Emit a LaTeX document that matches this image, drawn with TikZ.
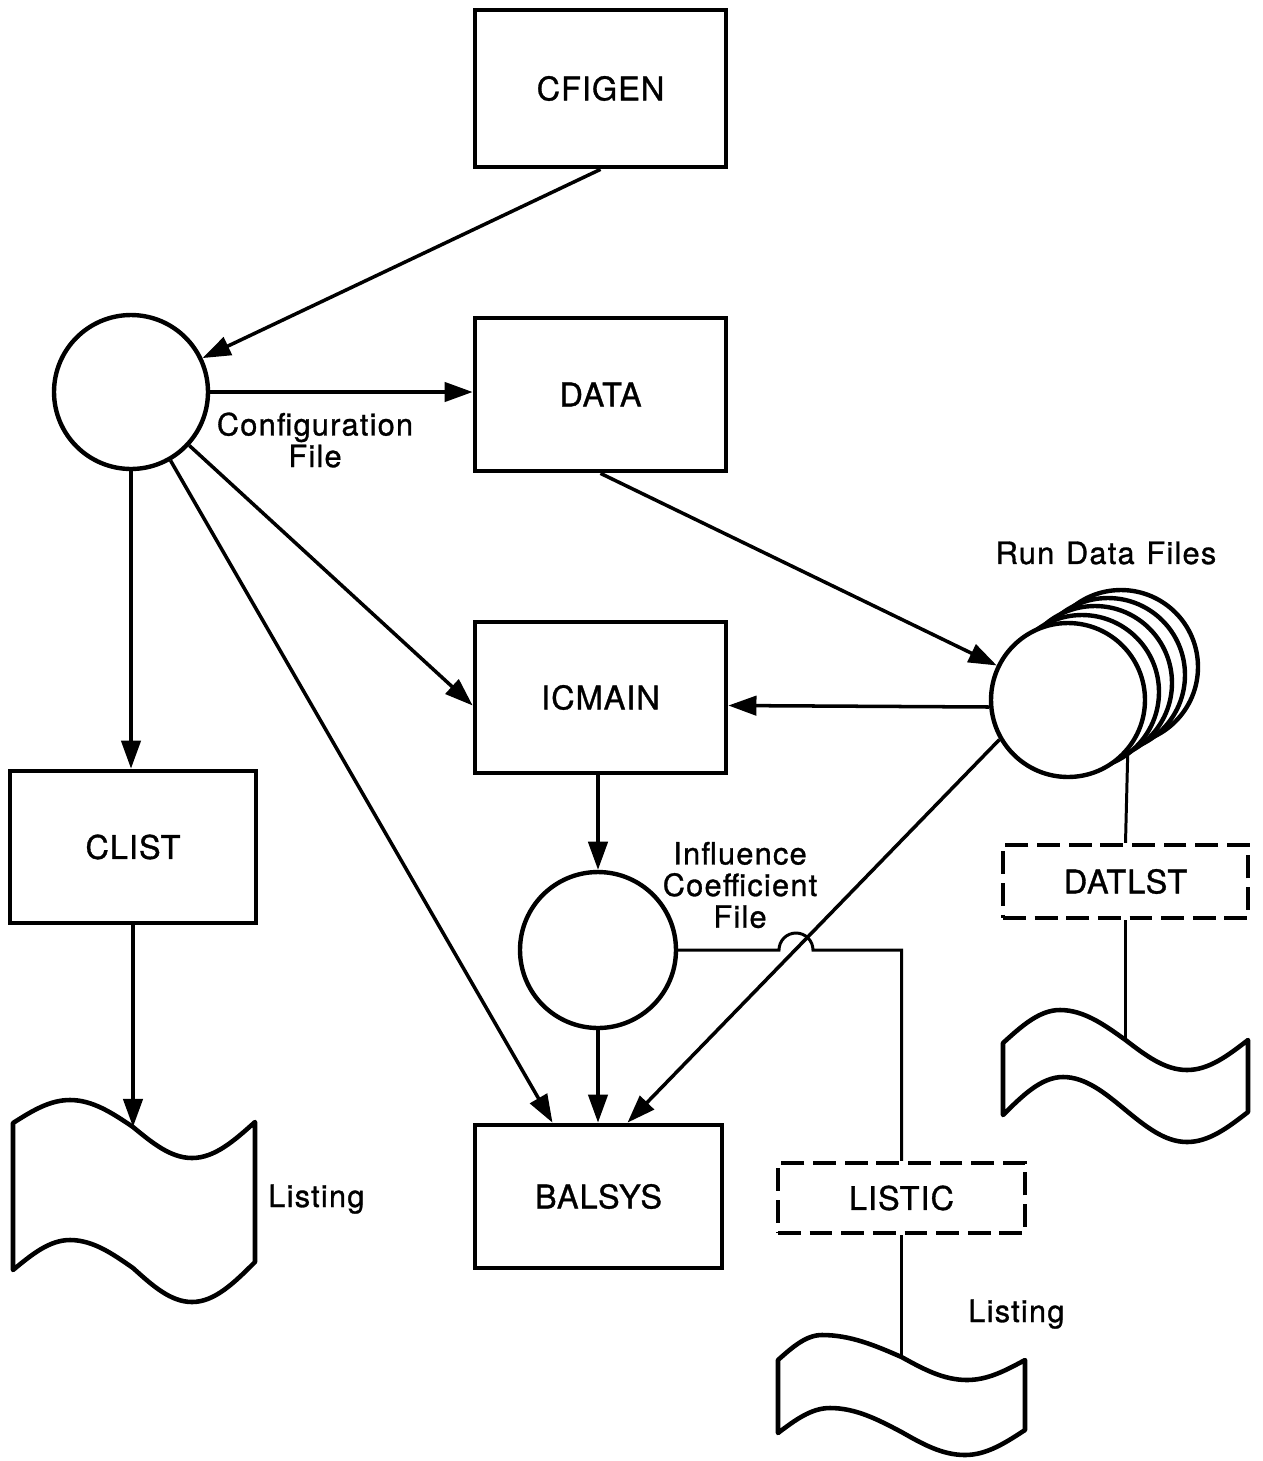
\documentclass[tikz,border=0pt]{standalone}
\usepackage{fontspec}
\setmainfont{TeX Gyre Heros}
\newfontfamily\boxfnt[LetterSpace=3,FakeBold=1]{TeX Gyre Heros}
\newfontfamily\lblfnt[LetterSpace=4,WordSpace=1.2,FakeBold=1]{TeX Gyre Heros}
\usetikzlibrary{arrows.meta,calc}
\begin{document}
\begin{tikzpicture}[x=0.02cm,y=-0.02cm,
  prog/.style={draw, line width=2.7pt, rectangle, inner sep=0pt, fill=white,
    font=\boxfnt\fontsize{18.5}{18}\selectfont},
  opt/.style={prog, line width=2.4pt, dash pattern=on 13pt off 5pt},
  file/.style={draw, line width=2.5pt, circle, inner sep=0pt, fill=white, minimum size=3.08cm},
  lbl/.style={inner sep=0pt, align=center, font=\lblfnt\fontsize{17.5}{18}\selectfont},
  docsh/.style={draw, line width=2.6pt, line join=round, fill=white},
  arr/.style={line width=2pt, -{Triangle[length=16pt,width=11pt]}},
  thinl/.style={line width=1.7pt}]
\useasboundingbox (0,0) rectangle (1262,1461);
\fill[white] (0,0) rectangle (1262,1461);

% program boxes
\node[prog, minimum width=5.02cm, minimum height=3.14cm] (cfigen) at (600.5,88.5) {CFIGEN};
\node[prog, minimum width=5.02cm, minimum height=3.06cm] (data) at (600.5,394.5) {DATA};
\node[prog, minimum width=5.02cm, minimum height=3.02cm] (icmain) at (600.5,697.5) {ICMAIN};
\node[prog, minimum width=4.94cm, minimum height=2.86cm] (balsys) at (598.5,1196.5) {BALSYS};
\node[prog, minimum width=4.92cm, minimum height=3.04cm] (clist) at (133,847) {CLIST};
\node[opt, minimum width=4.90cm, minimum height=1.46cm] (datlst) at (1125.5,881.5) {DATLST};
\node[opt, minimum width=4.94cm, minimum height=1.40cm] (listic) at (901.5,1198) {LISTIC};

% files
\node[file] (cfg) at (131,392) {};
\node[file, minimum size=3.12cm] (infl) at (598,950) {};
\node[file] (run4) at (1121,667) {};
\node[file] (run3) at (1108,675) {};
\node[file] (run2) at (1095,683) {};
\node[file] (run1) at (1082,692) {};
\node[file] (run) at (1068,700) {};

% labels
\node[lbl] (cfglbl) at (315,440) {Configuration\\File};
\node[lbl] (infllbl) at (740,885) {Influence\\Coefficient\\File};
\node[lbl] (runlbl) at (1106,553) {Run Data Files};

% listing documents
\draw[docsh] (13,1123) sin (70,1100) cos (133,1127) sin (192,1158) cos (255,1122)
  -- (255,1262) sin (192,1302) cos (133,1268) sin (70,1240) cos (13,1270) -- cycle;
\draw[docsh] (1003,1043) sin (1060,1010) cos (1125.5,1040) sin (1187,1070) cos (1248,1040)
  -- (1248,1112) sin (1187,1142) cos (1125.5,1110) sin (1063,1077) cos (1003,1115) -- cycle;
\draw[docsh] (778,1360) sin (822,1335) cos (901.5,1357) sin (967,1380) cos (1025,1360)
  -- (1025,1430) sin (965,1455) cos (901.5,1432) sin (830,1408) cos (778,1433) -- cycle;
\coordinate (doc1top) at (133,1127);
\coordinate (doc2top) at (1125.5,1040);
\coordinate (doc3top) at (901.5,1357);
\node[lbl, anchor=base west] (lst1) at (268,1207) {Listing};
\node[lbl, anchor=base west] (lst3) at (968,1322) {Listing};

% connectors
\draw[arr] (cfigen.south) -- (cfg);
\draw[arr] (cfg.east) -- (cfg.east -| data.west);
\draw[arr] (cfg) -- ($(icmain.west)+(0,8)$);
\draw[arr] (cfg) -- ($(balsys.north)+(-46,0)$);
\draw[arr] (cfg.south) -- (cfg.south |- clist.north);
\draw[arr] (data.south) -- (run);
\draw[arr] ($(run.west)+(0,7)$) -- ($(icmain.east)+(0,8)$);
\draw[arr] (run.210) -- ($(balsys.north)+(29,0)$);
\draw[arr] (infl.north |- icmain.south) -- (infl.north);
\draw[arr] (infl.south) -- (infl.south |- balsys.north);
\draw[arr] (clist.south) -- (doc1top);
\draw[thinl] (infl.east) -- (779,950) arc[start angle=180, end angle=0, radius=0.34cm]
  -- (listic.north |- infl.east) -- (listic.north);
\draw[thinl] (listic.south) -- (doc3top);
\draw[thinl] (run.-41.7) -- (datlst.north);
\draw[thinl] (datlst.south) -- (doc2top);
\end{tikzpicture}
\end{document}
